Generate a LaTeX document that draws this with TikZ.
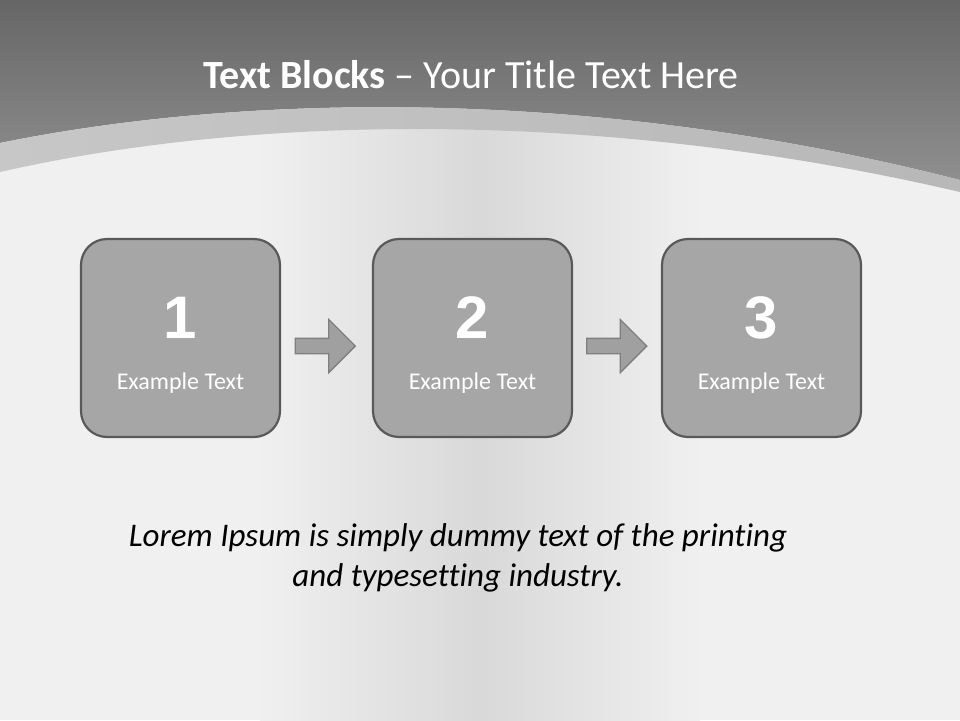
\documentclass[tikz,border=0pt]{standalone}
\usepackage{fontspec}
\setmainfont{Carlito}[Ligatures=NoCommon]
\newfontfamily\numfont{Liberation Sans}
\usetikzlibrary{shapes.arrows,calc}

\definecolor{boxfill}{HTML}{A6A6A6}
\definecolor{boxline}{HTML}{595959}
\definecolor{arrfill}{HTML}{A0A0A0}
\definecolor{arrline}{HTML}{7F7F7F}

\pgfdeclarehorizontalshading{bodyshade}{100bp}{color(0bp)=(black!6); color(25bp)=(black!6);
	color(50bp)=(black!15); color(75bp)=(black!6); color(100bp)=(black!6)}

\tikzset{
	block/.style={draw=boxline, fill=boxfill, line width=2.2pt, rounded corners=26pt,
		minimum width=199pt, minimum height=198pt, inner sep=0pt},
	blockarrow/.style={single arrow, draw=arrline, fill=arrfill, line width=1.3pt,
		minimum height=60pt, inner xsep=0pt, inner ysep=7pt, single arrow head extend=19pt,
		single arrow tip angle=90, anchor=center},
	num/.style={text=white, font=\numfont\bfseries\fontsize{60}{62}\selectfont},
	label/.style={text=white, font=\fontsize{24}{28}\selectfont},
}

\begin{document}
\begin{tikzpicture}[x=1pt, y=-1pt]
	% background
	\fill[color=black!6] (0,0) rectangle (960,720);
	\shade[shading=bodyshade] (260,100) rectangle (700,720);
	\shade[top color=black!60, bottom color=black!44] (0,0) -- (960,0) -- (960,180)
		.. controls (600,88) and (250,92) .. (0,143) -- cycle;
	\shade[left color=black!22, right color=black!28] (0,143) .. controls (250,92) and (600,88) .. (960,180)
		-- (960,192) .. controls (600,108) and (250,115) .. (0,172) -- cycle;

	% title
	\node[text=white, font=\fontsize{40}{46}\selectfont] (title) at (471,75)
		{\textbf{Text Blocks} – Your Title Text Here};

	% blocks
	\node[block] (box1) at (180.5,338) {};
	\node[block] (box2) at (472.5,338) {};
	\node[block] (box3) at (761.5,338) {};

	\node[num] (n1) at ($(box1.center)+(0,-20)$) {1};
	\node[num] (n2) at ($(box2.center)+(0,-20)$) {2};
	\node[num] (n3) at ($(box3.center)+(0,-20)$) {3};

	\node[label] (t1) at ($(box1.center)+(0,45)$) {Example Text};
	\node[label] (t2) at ($(box2.center)+(0,45)$) {Example Text};
	\node[label] (t3) at ($(box3.center)+(0,45)$) {Example Text};

	% arrows
	\node[blockarrow] (a12) at ($(box1.east)!0.5!(box2.west)+(-5,8)$) {};
	\node[blockarrow] (a23) at ($(box2.east)!0.5!(box3.west)+(-4,8)$) {};

	% body text
	\node[align=center, font=\itshape\fontsize{33}{40}\selectfont] (lorem) at (458,558)
		{Lorem Ipsum is simply dummy text of the printing\\and typesetting industry.};
\end{tikzpicture}
\end{document}
